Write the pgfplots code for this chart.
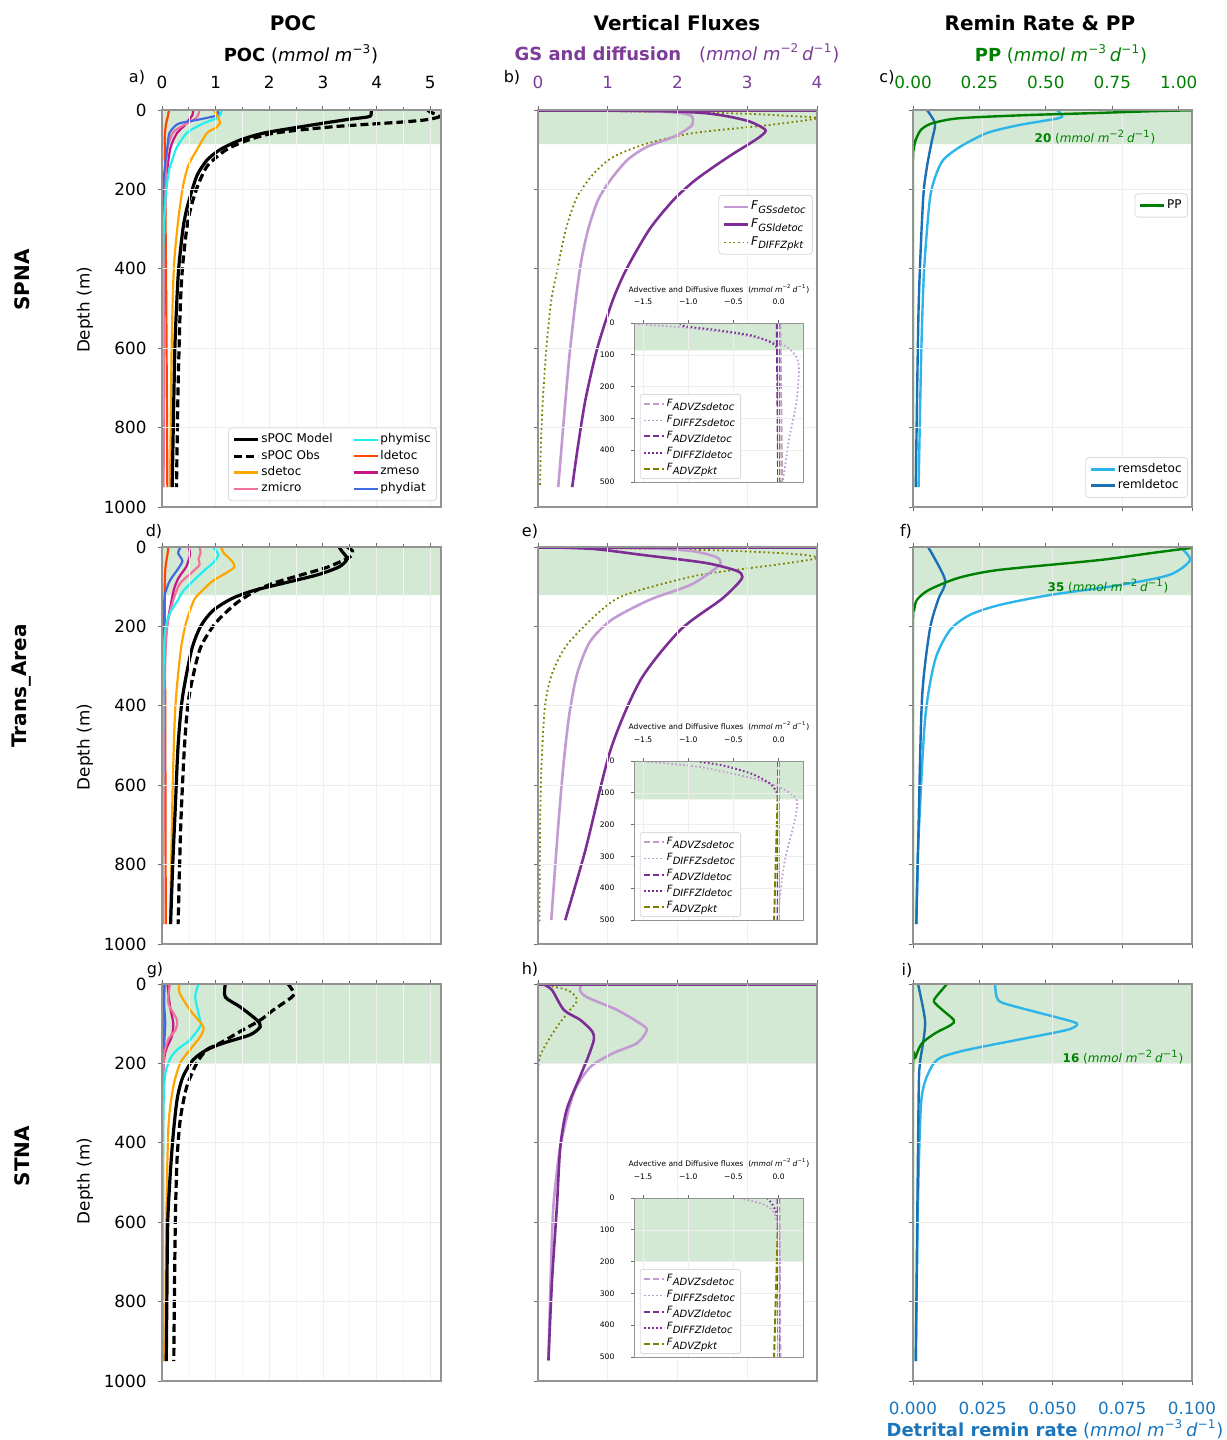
\documentclass[border=0pt]{standalone}
\usepackage{fontspec}
\setmainfont{DejaVu Sans}
\usepackage{pgfplots}
\pgfplotsset{compat=1.18}

\definecolor{shade}{HTML}{D4E9D4}
\definecolor{cSdet}{HTML}{FFA500}
\definecolor{cZmic}{HTML}{F2709C}
\definecolor{cPhym}{HTML}{1EF0F0}
\definecolor{cLdet}{HTML}{FF4500}
\definecolor{cZmes}{HTML}{C71585}
\definecolor{cPhyd}{HTML}{4169E1}
\definecolor{cGSs}{HTML}{C39BD3}
\definecolor{cGSl}{HTML}{7D2E95}
\definecolor{cOli}{HTML}{808000}
\definecolor{cPP}{HTML}{008000}
\definecolor{cRs}{HTML}{2CB5EA}
\definecolor{cRl}{HTML}{1A6FB5}
\definecolor{cPurp}{HTML}{7D3C98}
\definecolor{cBl}{HTML}{1A75BC}

\newcommand{\tfs}{\fontsize{8.4}{10}\selectfont}
\newcommand{\uM}[1]{(\textit{mmol m}\textsuperscript{−#1})}
\newcommand{\uMD}[1]{(\textit{mmol m}\textsuperscript{−#1}\,\textit{d}\textsuperscript{−1})}
\newcommand{\shadebox}[3]{\addplot[draw=none,fill=shade,forget plot] coordinates {(#1,0) (#2,0) (#2,#3) (#1,#3) (#1,0)};}
\newcommand{\Fs}[1]{\textit{F}\textsubscript{\textit{#1}}}

\pgfplotsset{
  panel/.style={
    scale only axis, anchor=north west, width=139.5pt, height=198.5pt,
    ymin=0, ymax=1000, y dir=reverse,
    ytick={0,200,400,600,800,1000}, yticklabels={}, ytick pos=left,
    xticklabels={},
    tick align=outside, major tick length=2.2pt, minor tick length=1.4pt,
    axis line style={draw=gray!85, line width=0.6pt},
    tick style={draw=gray!85!black, line width=0.5pt},
    tick label style={font=\tfs},
    xticklabel shift=5pt, yticklabel shift=2pt,
    major grid style={draw=gray!13, line width=0.4pt},
    minor grid style={draw=gray!8, line width=0.3pt},
    axis on top,
    legend cell align=left,
    legend image code/.code={\draw[##1] (0pt,0pt) -- (12pt,0pt);},
  },
  lg/.style={font=\fontsize{6}{6.5}\selectfont, draw=gray!30, rounded corners=1.5pt,
    inner sep=2pt, row sep=0.3pt, nodes={inner sep=0.9pt}},
  c1/.style={panel, xmin=0, xmax=5.2, xtick={0,1,2,3,4,5}, minor xtick={0.5,1.5,2.5,3.5,4.5},
    xtick pos=right, xticklabel pos=right, grid=both,
    yticklabels={0,200,400,600,800,1000}},
  c2/.style={panel, xmin=0, xmax=4, xtick={0,1,2,3,4}, xtick pos=right, xticklabel pos=right, grid=major},
  c3r/.style={panel, xmin=0, xmax=0.1, xtick={0,0.025,0.05,0.075,0.1}, xtick pos=left, xticklabel pos=left, grid=major},
  c3p/.style={panel, xmin=0, xmax=1.05, xtick={0,0.25,0.5,0.75,1}, xtick pos=right, xticklabel pos=right, ytick=\empty},
  inset/.style={
    scale only axis, anchor=north west, width=84.5pt, height=79.5pt,
    xmin=-1.6, xmax=0.27, ymin=0, ymax=500, y dir=reverse,
    xtick={-1.5,-1,-0.5,0}, xticklabels={−1.5,−1.0,−0.5,0.0}, xtick pos=right, xticklabel pos=right,
    ytick={0,100,200,300,400,500}, yticklabels={0,100,200,300,400,500}, ytick pos=left,
    tick align=outside, major tick length=1.3pt,
    tick label style={font=\fontsize{3.8}{4.5}\selectfont},
    xticklabel shift=4.5pt, yticklabel shift=5pt,
    axis background/.style={fill=white},
    axis line style={draw=gray!85, line width=0.45pt},
    tick style={draw=gray!85!black, line width=0.35pt},
    grid=major, major grid style={draw=gray!13, line width=0.3pt},
    axis on top,
    legend cell align=left,
    legend image code/.code={\draw[##1] (0pt,0pt) -- (10pt,0pt);},
    legend style={at={(0.035,0.02)}, anchor=south west, font=\fontsize{5}{5.5}\selectfont,
      draw=gray!30, rounded corners=1pt, inner sep=1.5pt, row sep=1.3pt, nodes={inner sep=0.8pt}},
  },
  ladvs/.style={cGSs, line width=0.9pt, dash pattern=on 3pt off 1.3pt},
  ldifs/.style={cGSs, line width=0.9pt, dash pattern=on 0.8pt off 1.2pt},
  ladvl/.style={cGSl, line width=1pt, dash pattern=on 3pt off 1.3pt},
  ldifl/.style={cGSl, line width=1pt, dash pattern=on 0.8pt off 1.2pt},
  ladvp/.style={cOli, line width=1pt, dash pattern=on 3pt off 1.3pt},
  cv/.style={smooth, tension=0.45, forget plot},
}

\begin{document}
\begin{tikzpicture}
\useasboundingbox (0pt,0pt) rectangle (613pt,-720pt);

% ================= ROW 1 =================
\begin{axis}[c1, at={(81pt,-55pt)}, xticklabels={0,1,2,3,4,5},
  legend style={lg, at={(0.985,0.015)}, anchor=south east},
  legend columns=2, /tikz/every even column/.append style={column sep=9pt}]
\shadebox{0}{5.2}{86}
\addplot[cv, cLdet, line width=1.1pt] coordinates {(0.13,0) (0.11,15) (0.07,40) (0.05,80) (0.06,200) (0.08,500) (0.1,950)};
\addplot[cv, cZmes, line width=1.1pt] coordinates {(0.58,0) (0.57,12) (0.5,25) (0.4,42) (0.28,58) (0.15,100) (0.07,200) (0.04,400) (0.02,950)};
\addplot[cv, cZmic, line width=1.1pt] coordinates {(0.7,0) (0.68,10) (0.62,22) (0.35,42) (0.2,58) (0.1,100) (0.06,200) (0.04,400) (0.03,950)};
\addplot[cv, cPhyd, line width=1.1pt] coordinates {(1.03,0) (1.05,12) (0.9,18) (0.65,25) (0.3,35) (0.14,58) (0.1,93) (0.05,150) (0.02,250) (0.01,950)};
\addplot[cv, cPhym, line width=1.1pt] coordinates {(1.1,0) (1.1,8) (1.03,20) (0.8,32) (0.65,42) (0.46,58) (0.28,93) (0.19,126) (0.12,160) (0.05,250) (0.02,400) (0.01,950)};
\addplot[cv, cSdet, line width=1.1pt] coordinates {(0.97,0) (1.03,15) (1.08,33) (1.0,45) (0.84,58) (0.65,100) (0.49,140) (0.39,193) (0.3,280) (0.22,400) (0.18,600) (0.15,950)};
\addplot[cv, black, line width=1.6pt, dash pattern=on 4pt off 2pt] coordinates {(4.95,0) (5.0,5) (5.12,12) (5.15,18) (4.9,25) (4.4,31) (3.2,42) (2.1,58) (1.6,76) (1.2,100) (0.85,140) (0.66,193) (0.53,250) (0.46,300) (0.38,400) (0.34,500) (0.3,700) (0.27,950)};
\addplot[cv, black, line width=1.6pt] coordinates {(3.9,0) (3.9,8) (3.85,17) (3.4,25) (2.6,42) (1.9,58) (1.45,76) (1.08,100) (0.84,126) (0.67,160) (0.58,193) (0.46,250) (0.39,300) (0.31,400) (0.27,500) (0.24,600) (0.21,800) (0.19,950)};
\addlegendimage{black, line width=1.6pt}\addlegendentry{sPOC Model}
\addlegendimage{cPhym, line width=1.1pt}\addlegendentry{phymisc}
\addlegendimage{black, line width=1.6pt, dash pattern=on 4pt off 2pt}\addlegendentry{sPOC Obs}
\addlegendimage{cLdet, line width=1.1pt}\addlegendentry{ldetoc}
\addlegendimage{cSdet, line width=1.1pt}\addlegendentry{sdetoc}
\addlegendimage{cZmes, line width=1.1pt}\addlegendentry{zmeso}
\addlegendimage{cZmic, line width=1.1pt}\addlegendentry{zmicro}
\addlegendimage{cPhyd, line width=1.1pt}\addlegendentry{phydiat}
\end{axis}

\begin{axis}[c2, at={(269pt,-55pt)}, xticklabels={0,1,2,3,4}, xticklabel style={text=cPurp},
  legend style={lg, at={(0.985,0.786)}, anchor=north east, row sep=1.2pt}]
\shadebox{0}{4}{86}
\addplot[cv, cOli, line width=0.9pt, dash pattern=on 0.9pt off 1.4pt] coordinates {(0,0) (2.7,8) (3.6,15) (4.0,21) (3.3,38) (2.23,58) (1.57,84) (1.08,118) (0.8,160) (0.56,219) (0.4,300) (0.28,400) (0.19,479) (0.12,600) (0.07,730) (0.04,850) (0.03,950)};
\addplot[cv, cGSs, line width=1.3pt] coordinates {(0,0) (1.6,3) (2.05,8) (2.2,15) (2.22,25) (2.21,38) (2.12,50) (1.94,68) (1.56,93) (1.28,126) (1.04,176) (0.86,227) (0.72,300) (0.62,380) (0.54,479) (0.45,620) (0.37,780) (0.29,950)};
\addplot[cv, cGSl, line width=1.3pt] coordinates {(0,0) (1.8,3) (2.4,8) (2.75,17) (3.05,30) (3.26,50) (3.2,65) (3.04,84) (2.8,110) (2.52,143) (2.23,180) (1.94,227) (1.6,300) (1.27,400) (1.07,480) (0.85,600) (0.68,730) (0.57,850) (0.49,950)};
\addplot[cGSl, line width=1.6pt, forget plot] coordinates {(0,0) (4,0)};
\addlegendimage{cGSs, line width=1.3pt}\addlegendentry{\Fs{GSsdetoc}}
\addlegendimage{cGSl, line width=1.3pt}\addlegendentry{\Fs{GSldetoc}}
\addlegendimage{cOli, line width=0.9pt, dash pattern=on 0.9pt off 1.4pt}\addlegendentry{\Fs{DIFFZpkt}}
\end{axis}

\begin{axis}[inset, at={(317pt,-161.5pt)}]
\shadebox{-1.6}{0.27}{86}
\addplot[cv, ldifs] coordinates {(-1.6,3) (-1.06,14) (-0.5,33) (-0.14,53) (0.085,74) (0.195,106) (0.225,148) (0.195,253) (0.12,358) (0.066,462) (0.045,500)};
\addplot[cv, ldifl] coordinates {(-1.09,0) (-1.04,10) (-0.69,22) (-0.32,38) (-0.1,59) (-0.01,86) (-0.005,200) (0,500)};
\addplot[ladvs, forget plot] coordinates {(0.02,0) (0.04,500)};
\addplot[ladvl, forget plot] coordinates {(-0.02,0) (-0.005,500)};
\addplot[ladvp, forget plot] coordinates {(0.0,0) (0.01,500)};
\addlegendimage{ladvs}\addlegendentry{\Fs{ADVZsdetoc}}
\addlegendimage{ldifs}\addlegendentry{\Fs{DIFFZsdetoc}}
\addlegendimage{ladvl}\addlegendentry{\Fs{ADVZldetoc}}
\addlegendimage{ldifl}\addlegendentry{\Fs{DIFFZldetoc}}
\addlegendimage{ladvp}\addlegendentry{\Fs{ADVZpkt}}
\end{axis}

\begin{axis}[c3r, at={(456.5pt,-55pt)},
  legend style={lg, at={(0.985,0.023)}, anchor=south east}]
\shadebox{0}{0.1}{86}
\addplot[cv, cRs, line width=1.2pt] coordinates {(0.0516,0) (0.0534,13) (0.052,21) (0.038,38) (0.0265,58) (0.0168,93) (0.0108,126) (0.008,168) (0.006,227) (0.004,400) (0.003,600) (0.002,950)};
\addplot[cv, cRl, line width=1.2pt] coordinates {(0.005,0) (0.0079,34) (0.0068,76) (0.005,143) (0.0036,227) (0.002,500) (0.001,950)};
\addplot[cRl, line width=1.4pt, forget plot] coordinates {(0,1000) (0.1,1000)};
\addlegendimage{cRs, line width=1.2pt}\addlegendentry{remsdetoc}
\addlegendimage{cRl, line width=1.2pt}\addlegendentry{remldetoc}
\end{axis}
\begin{axis}[c3p, at={(456.5pt,-55pt)}, xticklabels={0.00,0.25,0.50,0.75,1.00}, xticklabel style={text=cPP},
  legend style={lg, at={(0.985,0.79)}, anchor=north east}]
\addplot[cv, cPP, line width=1.2pt] coordinates {(1.1,0) (0.9,3) (0.67,8) (0.42,13) (0.17,21) (0.07,34) (0.03,50) (0.01,76) (0.003,100) (0,150) (0,950)};
\addplot[cPP, line width=1.4pt, forget plot] coordinates {(0,0) (1.05,0)};
\addlegendimage{cPP, line width=1.2pt}\addlegendentry{PP}
\end{axis}

% ================= ROW 2 =================
\begin{axis}[c1, at={(81pt,-273.5pt)}, xticklabels={}]
\shadebox{0}{5.2}{121}
\addplot[cv, cLdet, line width=1.1pt] coordinates {(0.12,0) (0.1,20) (0.06,60) (0.05,150) (0.06,400) (0.07,950)};
\addplot[cv, cZmes, line width=1.1pt] coordinates {(0.5,0) (0.52,20) (0.45,50) (0.3,80) (0.2,120) (0.05,250) (0.02,500) (0.01,950)};
\addplot[cv, cZmic, line width=1.1pt] coordinates {(0.7,0) (0.72,15) (0.68,30) (0.7,45) (0.55,65) (0.3,100) (0.1,200) (0.04,400) (0.02,950)};
\addplot[cv, cPhyd, line width=1.1pt] coordinates {(0.35,0) (0.3,15) (0.38,35) (0.3,55) (0.1,100) (0.03,200) (0.01,950)};
\addplot[cv, cPhym, line width=1.1pt] coordinates {(0.95,0) (1.05,20) (0.95,40) (0.78,60) (0.6,83) (0.4,110) (0.3,133) (0.1,184) (0.03,300) (0.01,950)};
\addplot[cv, cSdet, line width=1.1pt] coordinates {(1.1,0) (1.15,15) (1.3,35) (1.35,50) (1.2,65) (0.95,85) (0.75,110) (0.6,133) (0.45,190) (0.35,260) (0.25,400) (0.2,600) (0.15,950)};
\addplot[cv, black, line width=1.6pt, dash pattern=on 4pt off 2pt] coordinates {(3.45,0) (3.55,10) (3.5,25) (3.1,50) (2.6,70) (2.1,90) (1.75,110) (1.4,140) (1.15,170) (0.95,200) (0.7,260) (0.5,380) (0.42,500) (0.35,700) (0.3,950)};
\addplot[cv, black, line width=1.6pt] coordinates {(3.3,0) (3.35,10) (3.45,30) (3.3,50) (2.9,70) (2.3,90) (1.7,110) (1.3,130) (0.95,160) (0.72,200) (0.55,260) (0.38,380) (0.3,500) (0.25,650) (0.2,800) (0.16,950)};
\end{axis}

\begin{axis}[c2, at={(269pt,-273.5pt)}]
\shadebox{0}{4}{121}
\addplot[cv, cOli, line width=0.9pt, dash pattern=on 0.9pt off 1.4pt] coordinates {(0,0) (2.5,8) (3.7,18) (4.0,28) (3.4,45) (2.33,70) (1.47,108) (1.1,133) (0.75,184) (0.4,250) (0.2,320) (0.1,400) (0.05,550) (0.03,700) (0.02,950)};
\addplot[cv, cGSs, line width=1.3pt] coordinates {(0,0) (1.5,3) (2.2,10) (2.55,25) (2.62,40) (2.5,60) (2.18,96) (1.6,133) (1.05,184) (0.74,240) (0.56,320) (0.45,420) (0.37,540) (0.3,680) (0.24,820) (0.19,940)};
\addplot[cv, cGSl, line width=1.3pt] coordinates {(0,0) (0.8,5) (1.5,20) (2.4,40) (2.85,60) (2.93,75) (2.85,95) (2.62,133) (2.04,209) (1.47,335) (1.04,511) (0.68,763) (0.39,940)};
\addplot[cGSl, line width=1.6pt, forget plot] coordinates {(0,0) (4,0)};
\end{axis}

\begin{axis}[inset, at={(317pt,-380.5pt)}]
\shadebox{-1.6}{0.27}{121}
\addplot[cv, ldifs] coordinates {(-1.54,0) (-0.87,19) (-0.21,60) (0.07,91) (0.2,123) (0.18,185) (0.07,311) (0.01,437) (0.0,500)};
\addplot[cv, ldifl] coordinates {(-0.87,3) (-0.6,15) (-0.3,40) (-0.1,70) (-0.02,100) (0,150) (0,500)};
\addplot[ladvs, forget plot] coordinates {(0.01,0) (0.01,500)};
\addplot[ladvl, forget plot] coordinates {(-0.005,0) (-0.01,500)};
\addplot[ladvp, forget plot] coordinates {(0.0,0) (-0.05,500)};
\addlegendimage{ladvs}\addlegendentry{\Fs{ADVZsdetoc}}
\addlegendimage{ldifs}\addlegendentry{\Fs{DIFFZsdetoc}}
\addlegendimage{ladvl}\addlegendentry{\Fs{ADVZldetoc}}
\addlegendimage{ldifl}\addlegendentry{\Fs{DIFFZldetoc}}
\addlegendimage{ladvp}\addlegendentry{\Fs{ADVZpkt}}
\end{axis}

\begin{axis}[c3r, at={(456.5pt,-273.5pt)}]
\shadebox{0}{0.1}{121}
\addplot[cv, cRs, line width=1.2pt] coordinates {(0.0957,0) (0.0993,33) (0.092,70) (0.074,96) (0.049,121) (0.031,146) (0.0204,171) (0.0133,209) (0.0079,285) (0.0043,436) (0.0018,763) (0.0012,950)};
\addplot[cv, cRl, line width=1.2pt] coordinates {(0.0054,0) (0.0115,83) (0.009,133) (0.006,209) (0.0032,385) (0.0018,763) (0.0012,950)};
\addplot[cRl, line width=1.4pt, forget plot] coordinates {(0,1000) (0.1,1000)};
\end{axis}
\begin{axis}[c3p, at={(456.5pt,-273.5pt)}]
\addplot[cv, cPP, line width=1.2pt] coordinates {(1.05,2) (0.9,15) (0.7,33) (0.32,58) (0.17,78) (0.06,108) (0.015,133) (0.004,160) (0,200) (0,950)};
\addplot[cPP, line width=1.4pt, forget plot] coordinates {(0,0) (1.05,0)};
\end{axis}

% ================= ROW 3 =================
\begin{axis}[c1, at={(81pt,-492pt)}, xticklabels={}]
\shadebox{0}{5.2}{200}
\addplot[cv, cLdet, line width=1.1pt] coordinates {(0.03,0) (0.03,100) (0.02,200) (0.02,950)};
\addplot[cv, cPhyd, line width=1.1pt] coordinates {(0.05,0) (0.04,50) (0.06,100) (0.03,180) (0.01,300) (0.005,950)};
\addplot[cv, cZmes, line width=1.1pt] coordinates {(0.1,0) (0.15,57) (0.21,99) (0.18,133) (0.05,180) (0.01,300) (0.005,950)};
\addplot[cv, cZmic, line width=1.1pt] coordinates {(0.15,0) (0.12,48) (0.28,91) (0.25,116) (0.09,149) (0.02,250) (0.01,950)};
\addplot[cv, cPhym, line width=1.1pt] coordinates {(0.68,0) (0.62,33) (0.71,91) (0.72,105) (0.52,141) (0.28,166) (0.12,199) (0.03,300) (0.01,950)};
\addplot[cv, cSdet, line width=1.1pt] coordinates {(0.32,0) (0.33,23) (0.52,65) (0.77,108) (0.71,133) (0.52,166) (0.34,199) (0.21,259) (0.12,360) (0.08,600) (0.06,950)};
\addplot[cv, black, line width=1.6pt, dash pattern=on 4pt off 2pt] coordinates {(2.35,0) (2.45,20) (2.42,33) (2.08,65) (1.83,91) (1.45,120) (1.08,149) (0.83,166) (0.65,199) (0.46,259) (0.34,342) (0.28,443) (0.25,587) (0.23,800) (0.22,950)};
\addplot[cv, black, line width=1.6pt] coordinates {(1.18,0) (1.18,33) (1.45,57) (1.77,91) (1.83,108) (1.64,128) (1.14,149) (0.83,166) (0.58,191) (0.39,234) (0.28,292) (0.19,410) (0.11,587) (0.09,800) (0.08,950)};
\end{axis}

\begin{axis}[c2, at={(269pt,-492pt)}]
\shadebox{0}{4}{200}
\addplot[cv, cOli, line width=0.9pt, dash pattern=on 0.9pt off 1.4pt] coordinates {(0,0) (0.42,15) (0.56,40) (0.46,65) (0.27,108) (0.07,166) (0.01,199) (0,300) (0,950)};
\addplot[cv, cGSs, line width=1.3pt] coordinates {(0.63,0) (0.6,15) (0.7,33) (1.13,65) (1.46,99) (1.56,116) (1.42,149) (1.08,174) (0.75,209) (0.51,275) (0.32,410) (0.22,562) (0.18,750) (0.15,950)};
\addplot[cv, cGSl, line width=1.3pt] coordinates {(0.07,0) (0.2,15) (0.37,65) (0.61,91) (0.78,120) (0.8,141) (0.72,183) (0.6,234) (0.41,317) (0.32,410) (0.27,562) (0.2,750) (0.15,947)};
\addplot[cGSl, line width=1.6pt, forget plot] coordinates {(0,0) (4,0)};
\end{axis}

\begin{axis}[inset, at={(317pt,-599pt)}]
\shadebox{-1.6}{0.27}{200}
\addplot[cv, ldifs] coordinates {(-0.43,0) (-0.15,22) (-0.04,53) (0.01,132) (0.01,250) (0.0,500)};
\addplot[cv, ldifl] coordinates {(-0.13,0) (-0.08,15) (-0.02,50) (0,100) (0,500)};
\addplot[ladvs, forget plot] coordinates {(0.01,0) (0.02,500)};
\addplot[ladvl, forget plot] coordinates {(-0.01,0) (0.0,500)};
\addplot[ladvp, forget plot] coordinates {(0.0,0) (-0.05,500)};
\addlegendimage{ladvs}\addlegendentry{\Fs{ADVZsdetoc}}
\addlegendimage{ldifs}\addlegendentry{\Fs{DIFFZsdetoc}}
\addlegendimage{ladvl}\addlegendentry{\Fs{ADVZldetoc}}
\addlegendimage{ldifl}\addlegendentry{\Fs{DIFFZldetoc}}
\addlegendimage{ladvp}\addlegendentry{\Fs{ADVZpkt}}
\end{axis}

\begin{axis}[c3r, at={(456.5pt,-492pt)}, xticklabels={0.000,0.025,0.050,0.075,0.100}, xticklabel style={text=cBl}]
\shadebox{0}{0.1}{200}
\addplot[cv, cRs, line width=1.2pt] coordinates {(0.0294,0) (0.030,33) (0.0323,48) (0.0455,73) (0.0573,95) (0.0588,103) (0.055,116) (0.0372,141) (0.0193,166) (0.0097,186) (0.006,217) (0.003,292) (0.0018,544) (0.001,950)};
\addplot[cv, cRl, line width=1.2pt] coordinates {(0.0018,0) (0.0043,91) (0.0036,149) (0.0025,199) (0.002,292) (0.001,950)};
\addplot[cRl, line width=1.4pt, forget plot] coordinates {(0,1000) (0.1,1000)};
\end{axis}
\begin{axis}[c3p, at={(456.5pt,-492pt)}]
\addplot[cv, cPP, line width=1.2pt] coordinates {(0.128,0) (0.086,33) (0.079,45) (0.11,65) (0.154,91) (0.143,103) (0.086,123) (0.034,149) (0.01,184) (0,230) (0,950)};
\addplot[cPP, line width=1.4pt, forget plot] coordinates {(0,0) (1.05,0)};
\end{axis}

% ================= TEXT =================
\node[font=\bfseries\fontsize{10}{12}\selectfont] at (146.5pt,-11.5pt) {POC};
\node[font=\bfseries\fontsize{10}{12}\selectfont] at (338.5pt,-11.5pt) {Vertical Fluxes};
\node[font=\bfseries\fontsize{10}{12}\selectfont] at (520pt,-11.5pt) {Remin Rate \& PP};
\node[font=\fontsize{9}{11}\selectfont] at (150.5pt,-27pt) {\textbf{POC} \uM{3}};
\node[font=\fontsize{9}{11}\selectfont, text=cPurp] at (338.5pt,-26.5pt) {\textbf{GS and diffusion}\quad\uMD{2}};
\node[font=\fontsize{9}{11}\selectfont, text=cPP] at (530.5pt,-27pt) {\textbf{PP} \uMD{3}};
\node[font=\fontsize{9}{11}\selectfont, text=cBl] at (527.5pt,-714.5pt) {\textbf{Detrital remin rate} \uMD{3}};

\foreach \t/\x/\y in {a)/68.5/-38.5, b)/256/-38.5, c)/443.5/-38.5, d)/77/-265.5, e)/265/-265.5, f)/453/-265.5, g)/77.5/-485, h)/265/-484.5, i)/453.5/-485}
  \node[font=\fontsize{8}{10}\selectfont] at (\x pt,\y pt) {\t};

\node[rotate=90, font=\bfseries\fontsize{10}{12}\selectfont] at (11pt,-140pt) {SPNA};
\node[rotate=90, font=\bfseries\fontsize{10}{12}\selectfont] at (11pt,-343pt) {Trans\_Area};
\node[rotate=90, font=\bfseries\fontsize{10}{12}\selectfont] at (11pt,-578pt) {STNA};
\node[rotate=90, font=\tfs] at (42.5pt,-155pt) {Depth (m)};
\node[rotate=90, font=\tfs] at (42.5pt,-373.5pt) {Depth (m)};
\node[rotate=90, font=\tfs] at (42.5pt,-590.5pt) {Depth (m)};

\node[font=\fontsize{3.8}{4.5}\selectfont] at (359.5pt,-144.5pt) {Advective and Diffusive fluxes\ \ (\textit{mmol m}\textsuperscript{−2}\,\textit{d}\textsuperscript{−1})};
\node[font=\fontsize{3.8}{4.5}\selectfont] at (359.5pt,-363pt) {Advective and Diffusive fluxes\ \ (\textit{mmol m}\textsuperscript{−2}\,\textit{d}\textsuperscript{−1})};
\node[font=\fontsize{3.8}{4.5}\selectfont] at (359.5pt,-581.5pt) {Advective and Diffusive fluxes\ \ (\textit{mmol m}\textsuperscript{−2}\,\textit{d}\textsuperscript{−1})};

\node[font=\fontsize{6}{7}\selectfont, text=cPP] at (547.5pt,-68.5pt) {\textbf{20} (\textit{mmol m}\textsuperscript{−2}\,\textit{d}\textsuperscript{−1})};
\node[font=\fontsize{6}{7}\selectfont, text=cPP] at (554pt,-293pt) {\textbf{35} (\textit{mmol m}\textsuperscript{−2}\,\textit{d}\textsuperscript{−1})};
\node[font=\fontsize{6}{7}\selectfont, text=cPP] at (561.5pt,-528.5pt) {\textbf{16} (\textit{mmol m}\textsuperscript{−2}\,\textit{d}\textsuperscript{−1})};
\end{tikzpicture}
\end{document}
